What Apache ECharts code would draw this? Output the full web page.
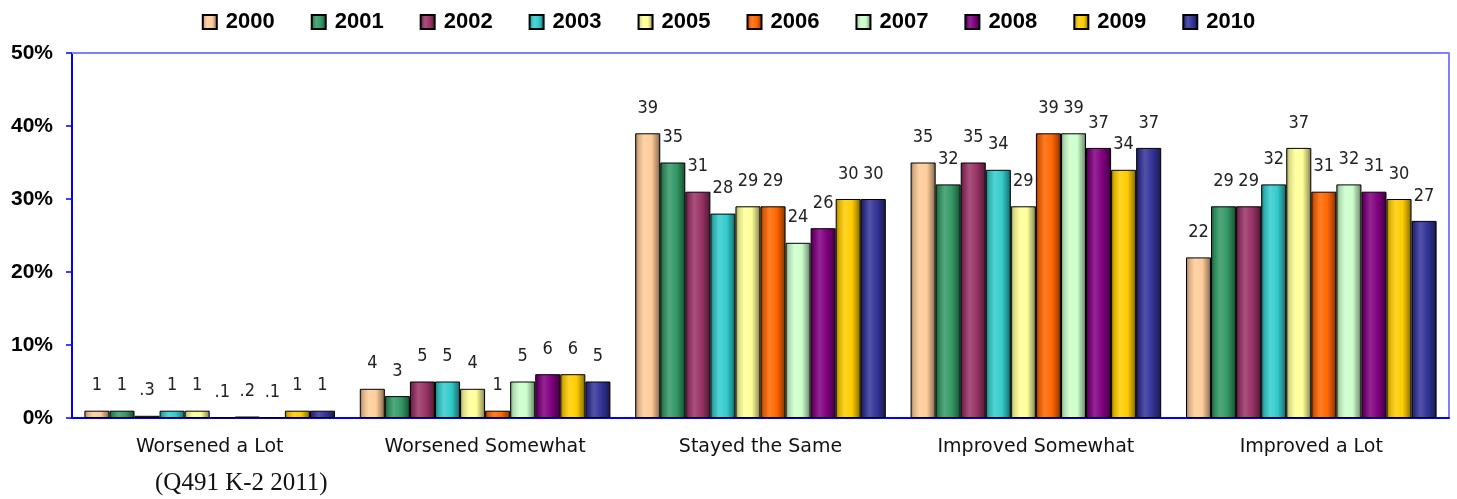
<!DOCTYPE html>
<html>
<head>
<meta charset="utf-8">
<script src="https://cdn.jsdelivr.net/npm/echarts@6/dist/echarts.min.js"></script>
<style>
html,body{margin:0;padding:0;background:#fff;}
#chart{width:1457px;height:499px;}
</style>
</head>
<body>
<div id="chart"></div>
<script>
const categories = ['Worsened a Lot', 'Worsened Somewhat', 'Stayed the Same', 'Improved Somewhat', 'Improved a Lot'];
const years = ['2000', '2001', '2002', '2003', '2005', '2006', '2007', '2008', '2009', '2010'];
const v2000 = [1, 4, 39, 35, 22];
const v2001 = [1, 3, 35, 32, 29];
const v2002 = [0.3, 5, 31, 35, 29];
const v2003 = [1, 5, 28, 34, 32];
const v2005 = [1, 4, 29, 29, 37];
const v2006 = [0.1, 1, 29, 39, 31];
const v2007 = [0.2, 5, 24, 39, 32];
const v2008 = [0.1, 6, 26, 37, 31];
const v2009 = [1, 6, 30, 34, 30];
const v2010 = [1, 5, 30, 37, 27];
const yTicks = [0, 10, 20, 30, 40, 50];
const subtitle = '(Q491 K-2 2011)';

const seriesValues = [v2000, v2001, v2002, v2003, v2005, v2006, v2007, v2008, v2009, v2010];
const colors = ['#FFCC99', '#339966', '#993366', '#33CCCC', '#FFFF99', '#FF6600', '#CCFFCC', '#800080', '#FFCC00', '#333399'];

function shade(hex, f) {
  const n = parseInt(hex.slice(1), 16);
  let r = (n >> 16) & 255, g = (n >> 8) & 255, b = n & 255;
  if (f < 0) { r = r * (1 + f); g = g * (1 + f); b = b * (1 + f); }
  else { r = r + (255 - r) * f; g = g + (255 - g) * f; b = b + (255 - b) * f; }
  return 'rgb(' + Math.round(r) + ',' + Math.round(g) + ',' + Math.round(b) + ')';
}
function grad(c) {
  return new echarts.graphic.LinearGradient(0, 0, 1, 0, [
    { offset: 0, color: shade(c, -0.45) },
    { offset: 0.12, color: shade(c, -0.15) },
    { offset: 0.35, color: shade(c, 0.15) },
    { offset: 0.65, color: c },
    { offset: 0.9, color: shade(c, -0.35) },
    { offset: 1, color: shade(c, -0.6) }
  ]);
}
function fmtVal(p) {
  const v = p.value;
  return v < 1 ? String(v).replace(/^0\./, '.') : String(v);
}

const chart = echarts.init(document.getElementById('chart'));
chart.setOption({
  animation: false,
  backgroundColor: '#fff',
  legend: {
    top: 6,
    left: 'center',
    icon: 'rect',
    itemWidth: 14,
    itemHeight: 14,
    itemGap: 36,
    textStyle: { fontFamily: 'Liberation Sans, Arial, sans-serif', fontWeight: 'bold', fontSize: 22, color: '#000', padding: [0, 0, 0, 4] },
    data: years
  },
  grid: { left: 72, right: 8, top: 53, bottom: 81, show: true, borderColor: '#0000ff', borderWidth: 1 },
  xAxis: [{
    type: 'category',
    data: categories,
    axisLine: { lineStyle: { color: '#0000ff', width: 2 } },
    axisTick: { show: false },
    axisLabel: { fontFamily: 'DejaVu Sans, Verdana, sans-serif', fontSize: 19, color: '#111', margin: 20 }
  }, {
    type: 'category',
    position: 'top',
    data: categories,
    axisLine: { lineStyle: { color: '#8080ff', width: 2 } },
    axisTick: { show: false },
    axisLabel: { show: false }
  }],
  yAxis: {
    type: 'value',
    min: 0,
    max: 50,
    interval: 10,
    axisLine: { show: true, lineStyle: { color: '#0000ff', width: 2 } },
    axisTick: { show: true, length: 6, lineStyle: { color: '#0000ff', width: 1.5 } },
    splitLine: { show: false },
    axisLabel: {
      formatter: function (v) { return yTicks.indexOf(v) >= 0 ? v + '%' : ''; },
      fontFamily: 'Liberation Sans, Arial, sans-serif', fontWeight: 'bold', fontSize: 21, color: '#000', margin: 19
    }
  },
  graphic: [{
    type: 'text',
    left: 155,
    top: 471,
    style: { text: subtitle, font: '25px "Liberation Serif", "Times New Roman", serif', fill: '#111' }
  }],
  series: seriesValues.map(function (vals, i) {
    return {
      name: years[i],
      type: 'bar',
      data: vals,
      barGap: '0%',
      barCategoryGap: '9%',
      itemStyle: { color: grad(colors[i]), borderColor: '#000', borderWidth: 1 },
      label: {
        show: true,
        position: 'top',
        distance: 16,
        formatter: fmtVal,
        fontFamily: '"DejaVu Sans Condensed", "Liberation Sans Narrow", sans-serif',
        fontSize: 18,
        color: '#222'
      }
    };
  })
});
</script>
</body>
</html>
